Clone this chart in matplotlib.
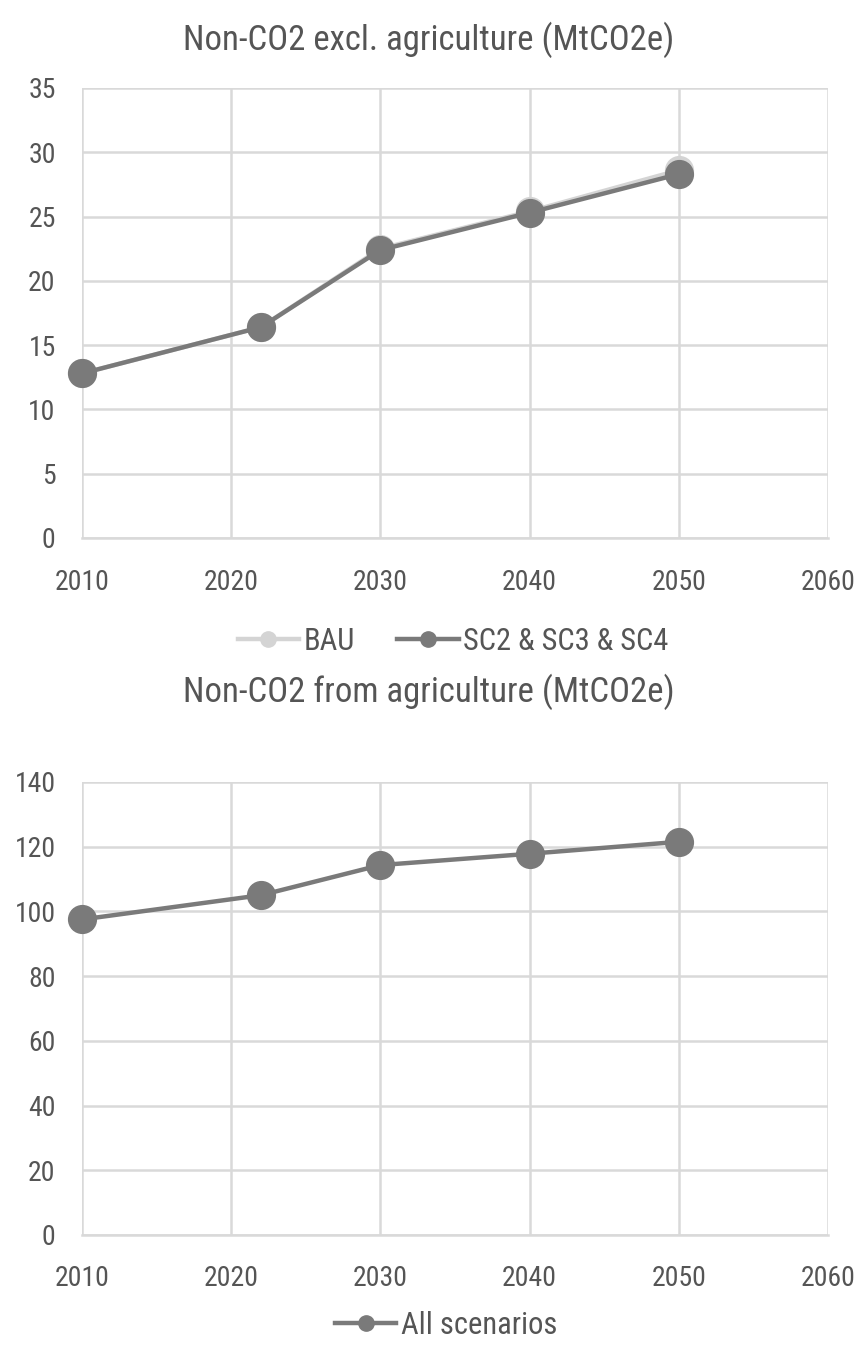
import matplotlib
matplotlib.use("Agg")
import matplotlib.pyplot as plt
from matplotlib import font_manager

years = [2010, 2022, 2030, 2040, 2050]
bau_excl = [12.8, 16.4, 22.5, 25.4, 28.6]
sc_excl = [12.8, 16.4, 22.4, 25.3, 28.3]
all_agri = [97.5, 105.0, 114.3, 117.8, 121.5]

title_top = "Non-CO2 excl. agriculture (MtCO2e)"
title_bottom = "Non-CO2 from agriculture (MtCO2e)"
labels_top = ["BAU", "SC2 & SC3 & SC4"]
label_bottom = "All scenarios"

names = {f.name for f in font_manager.fontManager.ttflist}
fam = "Roboto"
for cand in ["Roboto Condensed", "Liberation Sans Narrow", "Roboto"]:
    if cand in names:
        fam = cand
        break
plt.rcParams['font.family'] = [fam, 'DejaVu Sans']

TXT = "#555555"
GRID = "#d9d9d9"
DARK = "#7a7a7a"
LIGHT = "#d4d4d4"

fig = plt.figure(figsize=(8.58, 13.47), dpi=100)

def style(ax, ymax, ystep):
    ax.set_xlim(2010, 2060)
    ax.set_ylim(0, ymax)
    ax.set_xticks(range(2010, 2061, 10))
    ax.set_yticks(range(0, ymax + 1, ystep))
    ax.grid(True, color=GRID, linewidth=1.8)
    ax.set_axisbelow(True)
    for s in ax.spines.values():
        s.set_visible(False)
    ax.spines['bottom'].set_visible(True)
    ax.spines['bottom'].set_color(GRID)
    ax.spines['bottom'].set_linewidth(1.8)
    ax.tick_params(length=0, labelsize=20, colors=TXT)
    ax.tick_params(axis='y', pad=19)
    ax.tick_params(axis='x', pad=22)

ax1 = fig.add_axes([0.0956, 0.6006, 0.8694, 0.3341])
style(ax1, 35, 5)
ax1.plot(years, bau_excl, color=LIGHT, lw=3.2, marker='o', ms=20, label=labels_top[0], clip_on=False)
ax1.plot(years, sc_excl, color=DARK, lw=3.2, marker='o', ms=20, label=labels_top[1], clip_on=False)
fig.text(0.5, 0.9705, title_top, ha='center', va='center', fontsize=25, color=TXT)
fig.legend(handles=ax1.get_lines(), labels=labels_top, loc='center', bbox_to_anchor=(0.528, 0.524),
           ncol=2, frameon=False, fontsize=22, labelcolor=TXT, handlelength=2.0,
           markerscale=0.55, columnspacing=1.4, handletextpad=0.15)

ax2 = fig.add_axes([0.0956, 0.0832, 0.8694, 0.3363])
style(ax2, 140, 20)
ax2.plot(years, all_agri, color=DARK, lw=3.2, marker='o', ms=20, label=label_bottom, clip_on=False)
fig.text(0.5, 0.4865, title_bottom, ha='center', va='center', fontsize=25, color=TXT)
fig.legend(handles=ax2.get_lines(), labels=[label_bottom], loc='center', bbox_to_anchor=(0.52, 0.016),
           ncol=1, frameon=False, fontsize=22, labelcolor=TXT, handlelength=2.0,
           markerscale=0.55, handletextpad=0.15)

fig.savefig("out.png", dpi=100)
